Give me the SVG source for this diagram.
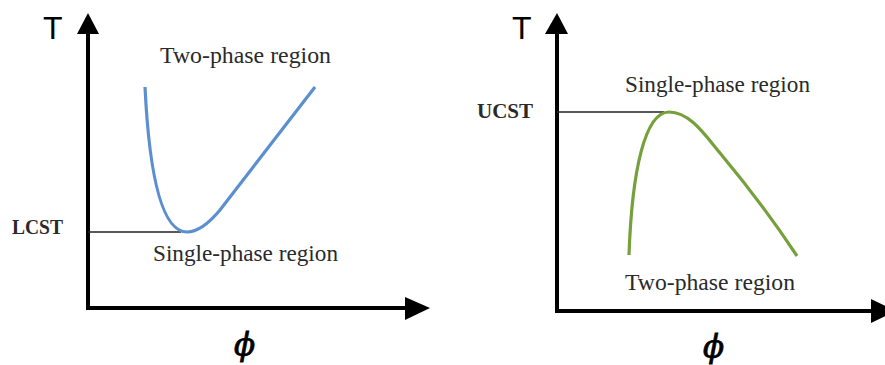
<svg xmlns="http://www.w3.org/2000/svg" width="885" height="365" viewBox="0 0 885 365">
<defs>
<style>
.axis{stroke:#000;stroke-width:4;fill:none}
.ref{stroke:#222;stroke-width:1.6;fill:none}
.head{fill:#000}
.lbl{font-family:"Liberation Serif",serif;font-size:23px;fill:#2a2a2a}
.crit{font-family:"Liberation Serif",serif;font-size:20px;font-weight:bold;fill:#2a2a2a}
.T{font-family:"Liberation Sans",sans-serif;font-size:32px;fill:#000}
.phi{font-family:"DejaVu Serif",serif;font-size:31px;font-style:italic;fill:#000;stroke:#000;stroke-width:0.8}
</style>
</defs>
<rect width="885" height="365" fill="#fff"/>
<g id="left-axes">
<path class="axis" d="M88,30 L88,308 L410,308"/>
<polygon class="head" points="88,13 77,34 99,34"/>
<polygon class="head" points="430,308 405,297 405,320"/>
<text class="T" x="43" y="39">T</text>
<text class="phi" x="234" y="355">ϕ</text>
</g>
<g id="left-lcst">
<line class="ref" x1="88" y1="232" x2="181" y2="232"/>
<text class="crit" x="12" y="234" textLength="51" lengthAdjust="spacingAndGlyphs">LCST</text>
</g>
<g id="left-curve">
<path d="M145,87 C150,190 165,232 187,232 C198,232 210,222 220,210 L315,87" fill="none" stroke="#5b8fcf" stroke-width="3.2"/>
</g>
<g id="left-labels">
<text class="lbl" x="160" y="63" textLength="171" lengthAdjust="spacingAndGlyphs">Two-phase region</text>
<text class="lbl" x="153" y="261" textLength="185" lengthAdjust="spacingAndGlyphs">Single-phase region</text>
</g>
<g id="right-axes">
<path class="axis" d="M557,30 L557,311 L875,311"/>
<polygon class="head" points="557,13 545,34 568,34"/>
<polygon class="head" points="896,311 871,299 871,323"/>
<text class="T" x="512" y="39">T</text>
<text class="phi" x="703" y="357">ϕ</text>
</g>
<g id="right-ucst">
<line class="ref" x1="557" y1="112" x2="664" y2="112"/>
<text class="crit" x="477" y="118" textLength="56" lengthAdjust="spacingAndGlyphs">UCST</text>
</g>
<g id="right-curve">
<path d="M629,255 C632,170 645,112 669,112 C690,112 705,135 720,153 C740,177 770,215 797,256" fill="none" stroke="#76a03c" stroke-width="3.2"/>
</g>
<g id="right-labels">
<text class="lbl" x="625" y="92" textLength="185" lengthAdjust="spacingAndGlyphs">Single-phase region</text>
<text class="lbl" x="625" y="290" textLength="170" lengthAdjust="spacingAndGlyphs">Two-phase region</text>
</g>
</svg>
